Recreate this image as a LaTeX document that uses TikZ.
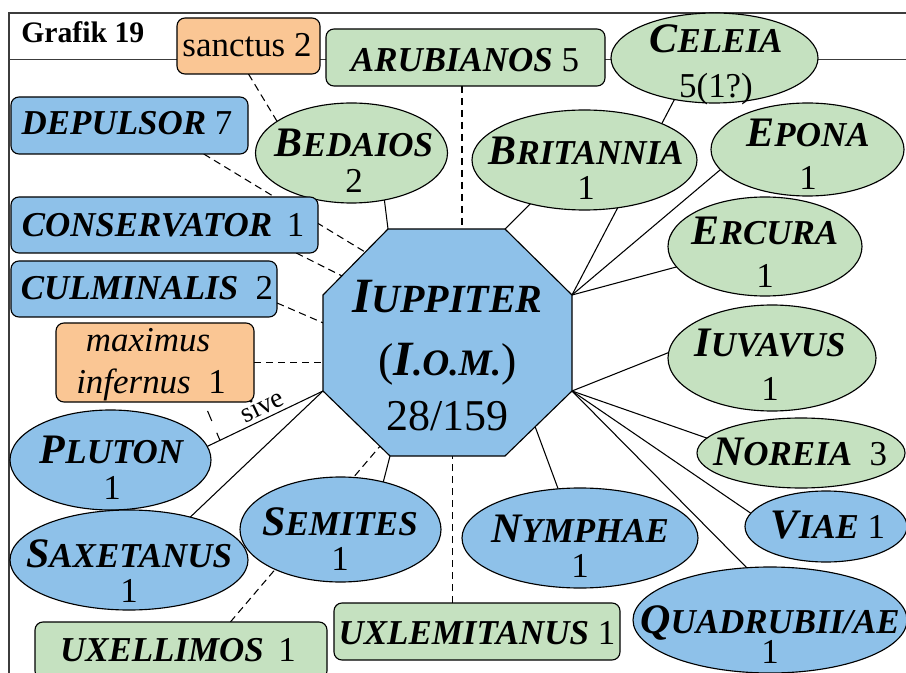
\documentclass[tikz,border=0pt]{standalone}
\usepackage{fontspec}
\setmainfont{Liberation Serif}
\usetikzlibrary{shapes.geometric,calc}
\pgfdeclarelayer{bg}
\pgfsetlayers{bg,main}
\definecolor{bl}{RGB}{142,193,233}
\definecolor{gr}{RGB}{197,225,192}
\definecolor{orn}{RGB}{250,198,148}
\definecolor{frm}{RGB}{60,60,60}
\newcommand\fN{\fontsize{26.2}{30}\selectfont}
\newcommand\fI{\fontsize{31.5}{36}\selectfont}
\newcommand\nmS[2]{\textbf{\textit{{\fI #1}#2}}}
\newcommand\nmF[1]{\textbf{\textit{#1}}}
\begin{document}
\begin{tikzpicture}[x=0.75pt,y=-0.75pt,
 bord/.style={draw=black, line width=0.85pt},
 ell/.style 2 args={ellipse, bord, minimum width=#1*1.5pt, minimum height=#2*1.5pt, inner sep=0pt, outer sep=0pt},
 rbox/.style 2 args={rectangle, rounded corners=6pt, bord, minimum width=#1*0.75pt, minimum height=#2*0.75pt, inner sep=0pt, outer sep=0pt},
 txt/.style={anchor=base, inner sep=0pt, font=\fN},
 conn/.style={line width=0.8pt},
 dsh/.style={conn, dash pattern=on 5.5pt off 3.5pt},
]
\useasboundingbox (0,0) rectangle (906,673);
\clip (0,0) rectangle (906,673);

% octagon vertices
\coordinate (v1) at (388,229);
\coordinate (v2) at (505,229);
\coordinate (v3) at (572,295);
\coordinate (v4) at (572,391);
\coordinate (v5) at (505,456);
\coordinate (v6) at (390,456);
\coordinate (v7) at (323,391);
\coordinate (v8) at (323,295);

% nodes
\node[rbox={143}{56}, fill=orn] (san) at (248.5,46) {};
\node[rbox={279}{57}, fill=gr] (aru) at (465.5,57.5) {};
\node[ell={103.5}{45}, fill=gr] (cel) at (714.5,58) {};
\node[rbox={237}{57}, fill=bl] (dep) at (129.5,125.5) {};
\node[ell={96}{50}, fill=gr] (bed) at (351.5,153) {};
\node[ell={112.5}{50}, fill=gr] (bri) at (584.5,160) {};
\node[ell={96.5}{46.5}, fill=gr] (epo) at (807.5,149.5) {};
\node[rbox={307}{56}, fill=bl] (con) at (164.5,225) {};
\node[ell={97}{49.5}, fill=gr] (erc) at (765,246.5) {};
\node[rbox={266}{56}, fill=bl] (cul) at (144,289) {};
\node[rbox={198}{79}, fill=orn] (max) at (155,362.5) {};
\node[ell={104}{53}, fill=gr] (iuv) at (772,358) {};
\node[ell={104}{35}, fill=gr] (nor) at (801,453) {};
\node[ell={100.5}{50}, fill=bl] (plu) at (110.5,460) {};
\node[ell={119}{50}, fill=bl] (sax) at (129,560) {};
\node[ell={100.5}{52.5}, fill=bl] (sem) at (340.5,529.5) {};
\node[ell={118}{50}, fill=bl] (nym) at (580,538) {};
\node[ell={81}{35.5}, fill=bl] (via) at (826,526.5) {};
\node[ell={137}{53}, fill=bl] (qua) at (770,620) {};
\node[rbox={292}{57}, fill=gr] (uxe) at (181,650.5) {};
\node[rbox={286}{57}, fill=gr] (uxl) at (477,631.5) {};

\draw[bord, fill=bl] (v1) -- (v2) -- (v3) -- (v4) -- (v5) -- (v6) -- (v7) -- (v8) -- cycle;

\begin{pgfonlayer}{bg}
 % frame
 \draw[frm, line width=1.4pt] (9,700) -- (9,13) -- (930,13);
 \draw[frm, line width=0.7pt] (9,59) -- (930,59);
 % solid connectors
 \draw[conn] (v1) -- (bed.305);
 \draw[conn] (v2) -- (bri.219);
 \draw[conn] (v3) -- (cel.226);
 \draw[conn] (v3) -- (epo.193);
 \draw[conn] (v3) -- (erc.193);
 \draw[conn] (v4) -- (iuv.177);
 \draw[conn] (v4) -- (nor.171);
 \draw[conn] (v4) -- (via.170);
 \draw[conn] (v4) -- (qua.114);
 \draw[conn] ($(v4)!0.55!(v5)$) -- (nym.114);
 \draw[conn] (v6) -- (sem.48);
 \draw[conn] (v7) -- (sax.35);
 \draw[conn] (plu.8) -- node[sloped, above, pos=0.52, inner sep=2.5pt, font=\fontsize{21}{22}\selectfont] (sive) {sive} (v7);
 % dashed connectors
 \draw[dsh] (san.south) -- (bed.157);
 \draw[dsh] (dep.339) -- ($(v8)!0.65!(v1)$);
 \draw[dsh] (con.348) -- ($(v8)!0.29!(v1)$);
 \draw[dsh] (cul.354) -- ($(v8)!0.29!(v7)$);
 \draw[dsh] (max.east) -- (max.east -| v8);
 \draw[conn, dash pattern=on 0pt off 7.3pt on 8.1pt off 9.7pt on 8pt] (max.321) -- ($(plu.8)!0.11!(v7)$);
 \draw[dsh] (aru.263) -- (aru.263 |- v1);
 \draw[dsh] (uxl.131) -- (uxl.131 |- v6);
 \draw[dsh] (uxe.30) -- ($(v6)!0.15!(v7)$);
\end{pgfonlayer}

% texts
\node[anchor=base west, inner sep=0pt, font=\fontsize{22.3}{26}\selectfont\bfseries] (title) at (21,43) {Grafik 19};
\node[txt] (sant) at (247,57) {sanctus 2};
\node[txt] (arut) at (465,72) {\nmF{ARUBIANOS} 5};
\node[txt] (celt) at (716,53) {\nmS{C}{ELEIA}};
\node[txt] (celn) at (716,98) {5(1?)};
\node[txt] (dept) at (127,135) {\nmF{DEPULSOR} 7};
\node[txt] (bedt) at (354,157) {\nmS{B}{EDAIOS}};
\node[txt] (bedn) at (354,193) {2};
\node[txt] (brit) at (586,165) {\nmS{B}{RITANNIA}};
\node[txt] (brin) at (586,200) {1};
\node[txt] (epot) at (808,147) {\nmS{E}{PONA}};
\node[txt] (epon) at (808,190) {1};
\node[txt] (cont) at (163,237) {\nmF{CONSERVATOR}\ \,1};
\node[txt] (erct) at (765,245) {\nmS{E}{RCURA}};
\node[txt] (ercn) at (765,288) {1};
\node[txt] (cult) at (147,300) {\nmF{CULMINALIS}\ \ 2};
\node[txt] (maxa) at (148,352) {\textit{maximus}};
\node[txt] (maxb) at (151,393) {\textit{infernus}\ \ 1};
\node[txt] (iuvt) at (770,357) {\nmS{I}{UVAVUS}};
\node[txt] (iuvn) at (770,400) {1};
\node[txt] (nort) at (800,465) {\nmS{N}{OREIA}\ \ 3};
\node[txt] (plut) at (112,463) {\nmS{P}{LUTON}};
\node[txt] (plun) at (112,499) {1};
\node[txt] (saxt) at (129,567) {\nmS{S}{AXETANUS}};
\node[txt] (saxn) at (129,602) {1};
\node[txt] (semt) at (340,535) {\nmS{S}{EMITES}};
\node[txt] (semn) at (340,570) {1};
\node[txt] (nymt) at (580,542) {\nmS{N}{YMPHAE}};
\node[txt] (nymn) at (580,577) {1};
\node[txt] (viat) at (828,538) {\nmS{V}{IAE} 1};
\node[txt] (quat) at (770,633) {\nmS{Q}{UADRUBII/AE}};
\node[txt] (quan) at (770,663) {1};
\node[txt] (uxet) at (178,661) {\nmF{UXELLIMOS}\ \,1};
\node[txt] (uxlt) at (477,644) {\nmF{UXLEMITANUS} 1};

\node[anchor=base, inner sep=0pt] (jup) at (447.5,313) {\bfseries\itshape{\fontsize{37}{40}\selectfont I}\fontsize{30}{34}\selectfont UPPITER};
\node[anchor=base, inner sep=0pt] (jupb) at (447.5,375) {\fontsize{34.5}{38}\selectfont(\textbf{\textit{{\fontsize{37}{40}\selectfont I}\fontsize{28}{30}\selectfont .O.M.}})};
\node[anchor=base, inner sep=0pt] (jupc) at (447.5,430) {\fontsize{33}{36}\selectfont 28/159};
\end{tikzpicture}
\end{document}
